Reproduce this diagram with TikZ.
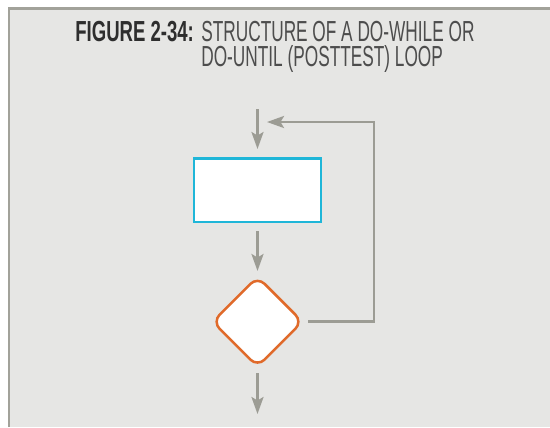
\documentclass[tikz,border=0pt]{standalone}
\usepackage{fontspec}
\setmainfont{Liberation Sans}
\newfontfamily\figfont{Liberation Sans}[FakeStretch=0.64]
\newfontfamily\capfont{Liberation Sans}[FakeStretch=0.595]
\usepackage{tikz}
\usetikzlibrary{arrows.meta,positioning,shapes.geometric}
\usepackage{xcolor}
\definecolor{panel}{HTML}{E6E6E4}
\definecolor{framegray}{HTML}{A2A29A}
\definecolor{flowgray}{HTML}{9C9C94}
\definecolor{boxcyan}{HTML}{1FB6D8}
\definecolor{testorange}{HTML}{E06A2A}
\definecolor{captext}{HTML}{2E2E2E}

\begin{document}
\begin{tikzpicture}[
    x=0.02cm, y=-0.02cm,
    >={Stealth[length=0.34cm, width=0.24cm, inset=0.07cm]},
    proc/.style={
      rectangle,
      draw=boxcyan,
      fill=white,
      line width=0.05cm,
      minimum width=2.55cm,
      minimum height=1.27cm,
      inner sep=0pt
    },
    test/.style={
      diamond,
      aspect=1,
      draw=testorange,
      fill=white,
      line width=0.05cm,
      rounded corners=0.2cm,
      minimum width=1.82cm,
      minimum height=1.82cm,
      inner sep=0pt
    },
    arrow/.style={->, draw=flowgray, line width=0.05cm},
    figlbl/.style={font=\figfont\bfseries\fontsize{16.5}{19}\selectfont, text=captext, inner sep=0pt, anchor=base west},
    caplbl/.style={font=\capfont\fontsize{16.5}{19}\selectfont, text=captext!85, inner sep=0pt, anchor=base west},
    node distance=1.04cm
  ]

  \useasboundingbox (0,0) rectangle (550,427);
  \fill[panel] (9,9) rectangle (550,427);
  \draw[framegray, line width=0.06cm] (9,427) |- (550,8.5);

  \node[figlbl] (fig) at (75,41.5) {FIGURE 2-34:};
  \node[caplbl] (cap1) at (201,41.5) {STRUCTURE OF A DO-WHILE OR};
  \node[caplbl] (cap2) at (201,66) {DO-UNTIL (POSTTEST) LOOP};

  \node[proc] (proc) at (257.5,190) {};
  \node[test, below=of proc] (test) {};
  \coordinate (entry) at (257.5,109);
  \coordinate (exit) at (257.5,414);
  \coordinate (back) at (374,122);
  \coordinate (join) at (267,122);

  \draw[arrow, shorten >=0.16cm] (entry) -- (proc);
  \draw[arrow, shorten <=0.16cm, shorten >=0.08cm] (proc) -- (test);
  \draw[arrow, shorten <=0.1cm] (test) -- (exit);
  \draw[arrow, shorten <=0.08cm] (test.east) -| (back) -- (join);

\end{tikzpicture}
\end{document}
